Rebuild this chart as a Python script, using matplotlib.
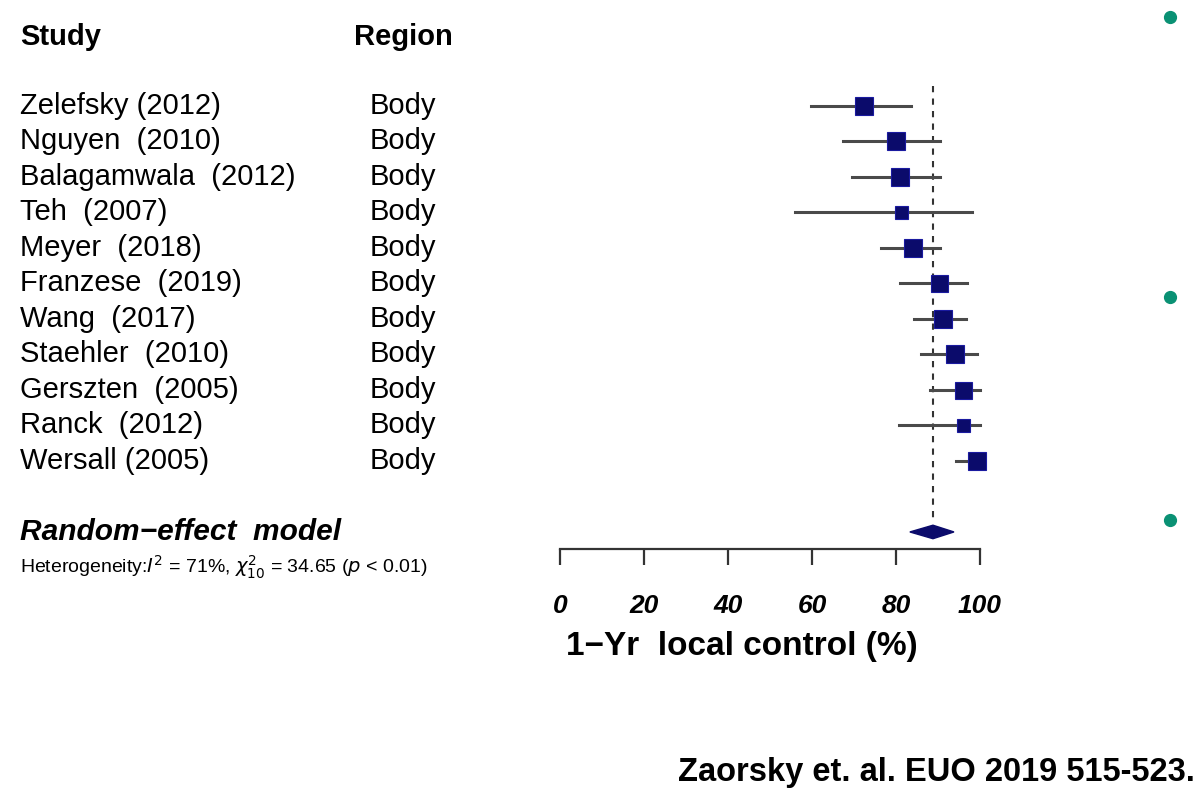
import matplotlib.pyplot as plt
import matplotlib.transforms as mtransforms

plt.rcParams['font.family'] = ['Liberation Sans', 'DejaVu Sans']

studies = ["Zelefsky (2012)", "Nguyen  (2010)", "Balagamwala  (2012)", "Teh  (2007)",
           "Meyer  (2018)", "Franzese  (2019)", "Wang  (2017)", "Staehler  (2010)",
           "Gerszten  (2005)", "Ranck  (2012)", "Wersall (2005)"]
region = ["Body"] * len(studies)
est = [72.4, 80.0, 81.0, 81.2, 84.0, 90.2, 91.2, 94.0, 96.0, 96.0, 99.3]
lo = [59.8, 67.4, 69.5, 56.0, 76.4, 81.0, 84.3, 86.0, 88.0, 80.7, 94.3]
hi = [83.6, 90.5, 90.5, 98.0, 90.5, 97.0, 96.7, 99.3, 100.0, 100.0, 100.0]
box = [18, 18, 18, 13, 18, 17, 18, 18, 17, 13, 18]   # square side, px
pooled, pooled_lo, pooled_hi = 88.8, 83.3, 93.8
ticks = [0, 20, 40, 60, 80, 100]

fig = plt.figure(figsize=(12, 7.99), dpi=100)
ax = fig.add_axes([560 / 1200, 1 - 549 / 799, 420 / 1200, 468 / 799])
ax.set_xlim(0, 100)
ax.set_ylim(12.48, -0.7)

rows = list(range(len(studies)))
navy = "#0b0b6b"
for i in rows:
    ax.plot([lo[i], hi[i]], [i, i], color="#4a4a4a", lw=2.2, clip_on=False, zorder=2)
    ax.plot(est[i], i, marker="s", ms=box[i] * 0.72, color=navy,
            mec="#1a1aa0", mew=0.8, clip_on=False, zorder=3)

pool_row = len(studies) + 1
ax.vlines(pooled, -0.55, pool_row - 0.3, colors="#333333", lw=1.5,
          linestyles=(0, (3, 3)), zorder=1)
ax.fill([pooled_lo, pooled, pooled_hi, pooled],
        [pool_row, pool_row - 0.19, pool_row, pool_row + 0.19],
        color=navy, zorder=3, clip_on=False)

for s in ["top", "left", "right"]:
    ax.spines[s].set_visible(False)
ax.spines["bottom"].set_color("#333333")
ax.spines["bottom"].set_linewidth(1.6)
ax.set_yticks([])
ax.set_xticks(ticks)
ax.set_xticklabels([str(t) for t in ticks], fontsize=19, fontweight="bold", style="italic")
ax.tick_params(axis="x", direction="out", length=11.5, width=1.6, color="#333333", pad=21)
ax.set_xlabel("1\u2212Yr  local control (%)", fontsize=24, fontweight="bold", labelpad=9)
ax.xaxis.label.set_x(0.433)

trans = mtransforms.blended_transform_factory(fig.transFigure, ax.transData)
for i in rows:
    ax.text(20 / 1200, i, studies[i], transform=trans, fontsize=21, va="center", ha="left")
    ax.text(370 / 1200, i, region[i], transform=trans, fontsize=21, va="center", ha="left")
ax.text(20 / 1200, pool_row, "Random\u2212effect  model", transform=trans, fontsize=21.5,
        fontweight="bold", style="italic", va="center", ha="left")

fig.text(20 / 1200, 1 - 37 / 799, "Study", fontsize=21, fontweight="bold", va="center")
fig.text(354 / 1200, 1 - 37 / 799, "Region", fontsize=21, fontweight="bold", va="center")
fig.text(20 / 1200, 1 - 567 / 799,
         r"Heterogeneity:$I^2$ = 71%, $\chi^2_{10}$ = 34.65 ($p$ < 0.01)",
         fontsize=14, va="center")
fig.text(1195 / 1200, 1 - 772 / 799, "Zaorsky et. al. EUO 2019 515-523.",
         fontsize=23.5, fontweight="bold", ha="right", va="center")

# bullet dots at right edge
deco = fig.add_axes([0, 0, 1, 1], facecolor="none")
deco.set_xlim(0, 1200)
deco.set_ylim(799, 0)
deco.axis("off")
deco.plot([1170, 1170, 1170], [17, 297, 520], "o", color="#0a9174", ms=8.5)

fig.savefig("out.png", dpi=100)
